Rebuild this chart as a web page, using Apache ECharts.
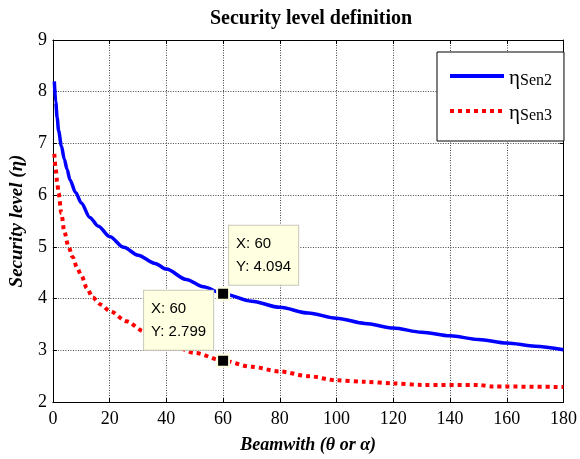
<!DOCTYPE html>
<html>
<head>
<meta charset="utf-8">
<script src="https://cdn.jsdelivr.net/npm/echarts@6/dist/echarts.min.js"></script>
<style>html,body{margin:0;padding:0;background:#fff;}#c{width:580px;height:459px;}</style>
</head>
<body>
<div id="c"></div>
<script>
// Data
const sen2X = [0.5,1,1.5,2,3,4,5,6,8,10,13,16,20,25,30,36,40,47,53,60,70,80,90,100,110,120,130,140,150,160,170,180];
const sen2Y = [8.2,7.8,7.5,7.25,6.95,6.7,6.5,6.3,6.05,5.85,5.57,5.4,5.2,4.99,4.84,4.68,4.57,4.37,4.23,4.094,3.95,3.83,3.72,3.62,3.52,3.43,3.35,3.28,3.21,3.14,3.08,3.01];
const sen3X = [0.5,1,1.5,2,3,4,5.5,7,8.5,10,12,14,17,20,26,32,40,50,60,70,80,90,100,110,120,130,150,155,180];
const sen3Y = [6.8,6.5,6.25,6.04,5.65,5.3,5.0,4.8,4.6,4.45,4.2,4.02,3.88,3.76,3.56,3.37,3.15,2.95,2.799,2.68,2.59,2.5,2.42,2.39,2.36,2.33,2.33,2.3,2.29];
const tipX = 60;
const tipSen2 = 4.094;
const tipSen3 = 2.799;
const xTicks = [0,20,40,60,80,100,120,140,160,180];
const yTicks = [2,3,4,5,6,7,8,9];
const seriesNames = ['Sen2','Sen3'];

const serif = '"Liberation Serif","Times New Roman",serif';
const sans = '"Liberation Sans",Arial,sans-serif';

function pairs(xs, ys){ return xs.map((x,i)=>[x, ys[i]]); }

const tipLabel = {
  show: true,
  formatter: p => 'X: ' + p.data.coord[0] + '\nY: ' + p.data.coord[1],
  fontFamily: sans,
  fontSize: 15,
  lineHeight: 23,
  color: '#000',
  align: 'left',
  verticalAlign: 'bottom',
  backgroundColor: '#ffffe1',
  borderColor: '#c8c8b8',
  borderWidth: 1,
  padding: [7, 7, 6, 7]
};

const chart = echarts.init(document.getElementById('c'), null, {renderer:'canvas'});
chart.setOption({
  backgroundColor: '#fff',
  animation: false,
  title: {
    text: 'Security level definition',
    left: 306, top: 4, textAlign: 'center',
    textStyle: {fontFamily: serif, fontWeight: 'bold', fontSize: 20, color: '#000'}
  },
  grid: {left: 51, right: 15, top: 40, bottom: 57},
  legend: {
    orient: 'vertical',
    left: 437, top: 52,
    padding: [11, 12, 17, 11],
    itemGap: 9,
    itemWidth: 54,
    itemHeight: 14,
    backgroundColor: '#fff',
    borderColor: '#000',
    borderWidth: 1,
    borderRadius: 0,
    itemStyle: {color: 'rgba(0,0,0,0)', borderWidth: 0},
    lineStyle: {width: 4},
    data: seriesNames,
    formatter: n => '{e|η}{s|' + n + '}',
    textStyle: {
      color: '#000',
      rich: {
        e: {fontFamily: serif, fontSize: 21, color: '#000', verticalAlign: 'bottom', lineHeight: 26},
        s: {fontFamily: serif, fontSize: 16, color: '#000', verticalAlign: 'bottom', padding: [10, 0, 0, 0], lineHeight: 26}
      }
    }
  },
  xAxis: [{
    type: 'value', min: 0, max: 180, interval: 20,
    name: 'Beamwith (θ or α)', nameLocation: 'middle', nameGap: 34,
    nameTextStyle: {fontFamily: serif, fontWeight: 'bold', fontStyle: 'italic', fontSize: 18, color: '#000'},
    axisLine: {show: true, onZero: false, lineStyle: {color: '#000', width: 1}},
    axisTick: {show: true, inside: true, length: 4, lineStyle: {color: '#000'}},
    axisLabel: {fontFamily: serif, fontSize: 18, color: '#000', margin: 8,
      formatter: v => xTicks.includes(v) ? String(v) : ''},
    splitLine: {show: true, lineStyle: {color: '#444', type: [1,1.5], width: 1}}
  },{
    type: 'value', min: 0, max: 180, interval: 20, position: 'top',
    axisLine: {show: true, onZero: false, lineStyle: {color: '#000', width: 1}},
    axisTick: {show: true, inside: true, length: 4, lineStyle: {color: '#000'}},
    axisLabel: {show: false}, splitLine: {show: false}
  }],
  yAxis: [{
    type: 'value', min: 2, max: 9, interval: 1,
    name: 'Security level (η)', nameLocation: 'middle', nameGap: 25, nameRotate: 90,
    nameTextStyle: {fontFamily: serif, fontWeight: 'bold', fontStyle: 'italic', fontSize: 19, color: '#000'},
    axisLine: {show: true, onZero: false, lineStyle: {color: '#000', width: 1}},
    axisTick: {show: true, inside: true, length: 4, lineStyle: {color: '#000'}},
    axisLabel: {fontFamily: serif, fontSize: 18, color: '#000', margin: 6,
      formatter: v => yTicks.includes(v) ? String(v) : ''},
    splitLine: {show: true, lineStyle: {color: '#444', type: [1,1.5], width: 1}}
  },{
    type: 'value', min: 2, max: 9, interval: 1, position: 'right',
    axisLine: {show: true, onZero: false, lineStyle: {color: '#000', width: 1}},
    axisTick: {show: true, inside: true, length: 4, lineStyle: {color: '#000'}},
    axisLabel: {show: false}, splitLine: {show: false}
  }],
  series: [{
    name: seriesNames[0], type: 'line', data: pairs(sen2X, sen2Y),
    showSymbol: false, symbol: 'none', smooth: 0.3, smoothMonotone: 'x',
    lineStyle: {color: '#0000ff', width: 3.5}, itemStyle: {color: '#0000ff'},
    markPoint: {
      symbol: 'rect', symbolSize: 12,
      itemStyle: {color: '#000', borderColor: '#ffffe1', borderWidth: 2},
      label: Object.assign({}, tipLabel, {position: [13, -2]}),
      data: [{coord: [tipX, tipSen2]}]
    },
    z: 3
  },{
    name: seriesNames[1], type: 'line', data: pairs(sen3X, sen3Y),
    showSymbol: false, symbol: 'none', smooth: 0.3, smoothMonotone: 'x',
    lineStyle: {color: '#ff0000', width: 4, type: [4, 4]}, itemStyle: {color: '#ff0000'},
    markPoint: {
      symbol: 'rect', symbolSize: 12,
      itemStyle: {color: '#000', borderColor: '#ffffe1', borderWidth: 2},
      label: Object.assign({}, tipLabel, {position: [-72, -4]}),
      data: [{coord: [tipX, tipSen3]}]
    },
    z: 2
  }]
});
</script>
</body>
</html>
